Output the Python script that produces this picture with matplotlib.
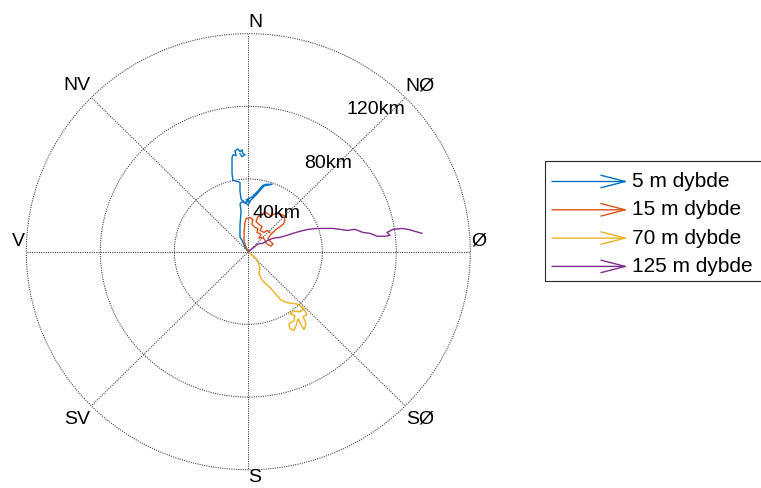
import numpy as np
import matplotlib
matplotlib.use("Agg")
import matplotlib.pyplot as plt
from matplotlib.patches import Rectangle, ArrowStyle

plt.rcParams['font.family'] = ['Liberation Sans', 'DejaVu Sans']

# ---------------- data (km east, km north) ----------------
series_names = ["5 m dybde", "15 m dybde", "70 m dybde", "125 m dybde"]
series_colors = ["#0072BD", "#D95319", "#EDB120", "#7E2F8E"]

east_5m = [0, -1.8, -3.4, -4.5, -4.5, -3.9, -4.5, -2.9, -0.2, 0.9, -1.2, 2.0, 5.2, 7.9, 10.6, 12.8,
           9.6, 7.4, 4.2, 0.9, -2.3, -3.9, -4.5, -4.5, -6.6, -8.3, -8.8, -8.8, -8.8, -8.3, -6.6,
           -7.2, -5.6, -4.5, -3.4, -2.9, -1.8, -3.4, -4.5]
north_5m = [0, 2.5, 6.3, 8.0, 14.4, 22.5, 26.3, 27.9, 25.8, 27.4, 28.5, 30.1, 33.4, 36.6, 36.6, 37.1,
            37.1, 35.0, 31.2, 27.9, 26.9, 29.0, 33.4, 38.2, 38.8, 39.3, 43.1, 48.0, 51.7, 53.4, 52.8,
            55.5, 56.6, 55.0, 56.1, 53.9, 53.4, 52.3, 53.9]

east_15m = [0, -1.2, -2.3, -2.3, -1.8, -1.2, 0.9, 2.5, 2.0, 3.6, 5.2, 4.7, 6.9, 5.8, 7.9, 9.0, 9.6,
            11.2, 12.3, 13.4, 11.7, 10.6, 12.3, 14.4, 16.6, 18.8, 19.8, 19.3, 17.1, 14.4, 12.3, 10.6,
            9.0, 7.4, 5.2, 4.2, 5.8, 7.4, 6.3, 8.5, 10.1, 11.7]
north_15m = [0, 2.5, 5.8, 10.6, 16.1, 18.2, 18.8, 17.7, 15.0, 13.4, 12.8, 10.6, 9.6, 7.4, 7.9, 6.3,
             4.7, 3.6, 3.1, 4.2, 5.8, 7.4, 9.6, 11.7, 13.4, 15.0, 17.1, 19.8, 20.9, 20.9, 19.8, 20.9,
             22.0, 20.4, 19.3, 16.6, 15.0, 13.9, 11.7, 10.6, 11.7, 10.6]

east_70m = [0, 2.0, 4.2, 5.2, 6.3, 5.8, 7.4, 9.6, 11.7, 14.4, 17.1, 19.8, 22.5, 26.3, 28.5, 29.6,
            27.4, 24.7, 22.5, 25.2, 24.7, 22.0, 22.5, 24.7, 25.8, 26.9, 28.5, 30.1, 31.2, 29.6, 31.7,
            30.6, 29.0]
north_70m = [0, -1.8, -3.9, -5.6, -8.8, -12.1, -15.5, -18.0, -19.6, -22.9, -26.1, -27.7, -28.3, -28.8,
             -29.9, -32.1, -33.1, -32.6, -34.2, -35.3, -38.0, -39.6, -42.3, -43.4, -40.7, -36.9, -40.2,
             -42.9, -39.6, -35.8, -34.7, -32.1, -30.4]

east_125m = [0, 2.5, 5.2, 7.9, 10.6, 13.4, 17.1, 20.9, 24.2, 27.9, 32.3, 37.1, 41.5, 45.8, 49.6,
             53.4, 57.7, 62.0, 65.8, 69.6, 73.9, 76.6, 75.0, 78.2, 83.1, 86.3, 90.1, 93.9]
north_125m = [0, 2.0, 4.2, 4.7, 6.3, 7.4, 7.9, 9.0, 10.1, 11.2, 12.3, 12.8, 12.8, 12.8, 12.3,
              11.7, 12.3, 10.6, 10.1, 8.5, 8.5, 9.0, 10.6, 12.3, 12.8, 12.3, 11.2, 10.1]

ring_radii = [40, 80, 120]
ring_labels = ["40km", "80km", "120km"]
direction_labels = ["Ø", "NØ", "N", "NV", "V", "SV", "S", "SØ"]

# ---------------- figure ----------------
W, H = 761, 488
fig = plt.figure(figsize=(W / 100, H / 100), dpi=100)
fig.patch.set_facecolor("white")

cx, cy = 248.3, 251.7          # centre in pixels
sx, sy = 1.85, 1.817           # px per km
ax = fig.add_axes([0, 0, 500 / W, 1])
ax.set_xlim((0 - cx) / sx, (500 - cx) / sx)
ax.set_ylim(-(H - cy) / sy, cy / sy)
ax.axis("off")

grid_kw = dict(color="0.2", lw=0.75, linestyle=(0, (1, 1.2)), zorder=1)
t = np.linspace(0, 2 * np.pi, 721)
for r in ring_radii:
    ax.plot(r * np.cos(t), r * np.sin(t), **grid_kw)
rmax = ring_radii[-1]
for k in range(8):
    a = np.deg2rad(45 * k)
    ax.plot([0, rmax * np.cos(a)], [0, rmax * np.sin(a)], **grid_kw)

# direction labels (pixel positions)
dir_px = {"N": (255, 22.5), "S": (255, 478), "NV": (77, 86), "NØ": (420, 86),
          "V": (18, 241), "Ø": (479, 241), "SV": (77, 419), "SØ": (420, 419)}
for lab in direction_labels:
    px, py = dir_px[lab]
    ax.text((px - cx) / sx, (cy - py) / sy, lab, ha="center", va="center",
            fontsize=14, color="black", clip_on=False)

ring_px = [(276.7, 213.3), (328.3, 163.3), (376, 110)]
for lab, (px, py) in zip(ring_labels, ring_px):
    ax.text((px - cx) / sx, (cy - py) / sy, lab, ha="center", va="center",
            fontsize=14, color="black", zorder=5)

tracks = [(east_5m, north_5m), (east_15m, north_15m), (east_70m, north_70m), (east_125m, north_125m)]
for (e, n), c in zip(tracks, series_colors):
    ax.plot(e, n, color=c, lw=1.0, zorder=3)

# ---------------- legend (drawn in pixel space) ----------------
lax = fig.add_axes([0, 0, 1, 1])
lax.set_xlim(0, W)
lax.set_ylim(H, 0)
lax.axis("off")
lax.add_patch(Rectangle((544.5, 161), 240, 120, fill=False, ec="0.15", lw=0.8))
style = ArrowStyle("->", head_length=1.75, head_width=0.45)
for i, (name, c) in enumerate(zip(series_names, series_colors)):
    y = 181.5 + i * 28.3
    lax.annotate("", xy=(628, y), xytext=(552, y),
                 arrowprops=dict(arrowstyle=style, color=c, lw=1.0, mutation_scale=10,
                                 shrinkA=0, shrinkB=0))
    lax.text(632, y, name, ha="left", va="center", fontsize=15, color="black")

fig.savefig("out.png", dpi=100)
